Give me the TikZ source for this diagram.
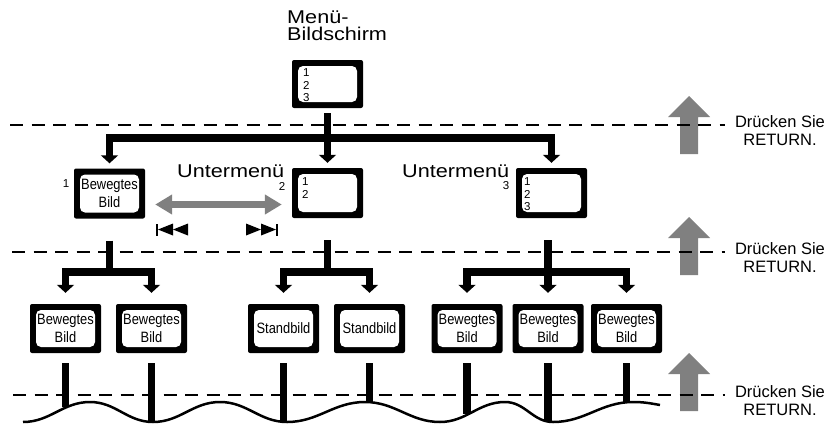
\documentclass[tikz,border=0pt]{standalone}
\usepackage{fontspec}
\usepackage{graphicx}
\setmainfont{Liberation Sans}
\usetikzlibrary{arrows.meta}
\definecolor{arrgray}{HTML}{808080}
\newcommand\wideT[1]{\scalebox{1.17}[1]{#1}}
\newcommand\narrowT[1]{\scalebox{0.86}[1]{#1}}
\begin{document}
\begin{tikzpicture}[x=1pt,y=-1pt,
  scr/.style={minimum width=71pt, minimum height=49pt, inner sep=0pt, fill=black, rounded corners=2pt,
    path picture={\fill[white, rounded corners=5pt] ([shift={(6pt,6pt)}]path picture bounding box.south west) rectangle ([shift={(-6pt,-6pt)}]path picture bounding box.north east);}},
  boxtxt/.style={font=\fontsize{15}{18}\selectfont, align=center, text=black},
  digits/.style={font=\fontsize{11.5}{12.5}\selectfont, align=left, inner sep=0pt, anchor=north west},
  smalltxt/.style={font=\fontsize{11.5}{12.5}\selectfont, inner sep=0pt},
  bigtxt/.style={font=\fontsize{18.5}{17}\selectfont, inner sep=0pt},
  rettxt/.style={font=\fontsize{16.5}{18}\selectfont, align=center, inner sep=0pt},
  thick line/.style={line width=7.5pt, draw=black},
  arr/.style={thick line, -{Triangle[width=17pt,length=8pt]}},
  darr/.style={thick line, {Triangle[width=17pt,length=8pt]}-{Triangle[width=17pt,length=8pt]}},
  grayarr/.style={line width=7pt, draw=arrgray, {Triangle[width=19pt,length=17pt]}-{Triangle[width=19pt,length=17pt]}},
  dashline/.style={line width=2.5pt, dash pattern=on 13pt off 8.5pt},
  wave/.style={line width=2.5pt},
  retarrow/.pic={\fill[arrgray] (-9,58) -- (-9,21) -- (-21,21) -- (0,0) -- (21,21) -- (9,21) -- (9,58) -- cycle;}
]
\useasboundingbox (0,0) rectangle (826,423);

% title
\node[bigtxt, align=left, anchor=north west] (title) at (287,11) {\wideT{Menü-}\\\wideT{Bildschirm}};

% top menu box
\node[scr, minimum height=48pt] (T) at (327.5,84) {};
\node[digits] (Td) at ([shift={(11pt,-9pt)}]T.north west) {1\\2\\3};

% level 1
\node[scr, minimum height=50pt, boxtxt] (A1) at (109.5,193.5) {\narrowT{Bewegtes}\\\narrowT{Bild}};
\node[scr, minimum height=50pt] (B1) at (327.5,193) {};
\node[digits] (B1d) at ([shift={(10pt,-10pt)}]B1.north west) {1\\2};
\node[scr, minimum height=50pt] (C1) at (551.5,193) {};
\node[digits] (C1d) at ([shift={(8pt,-10pt)}]C1.north west) {1\\2\\3};

\node[smalltxt] (n1) at (66,184) {1};
\node[bigtxt, anchor=base west] (u2) at (177,177) {\wideT{Untermenü}};
\node[smalltxt] (n2) at (282,186) {2};
\node[bigtxt, anchor=base west] (u3) at (402,177) {\wideT{Untermenü}};
\node[smalltxt] (n3) at (506,186) {3};

% level 2
\foreach \n/\x/\t in {D1/65.5/{\narrowT{Bewegtes}\\\narrowT{Bild}}, D2/151.5/{\narrowT{Bewegtes}\\\narrowT{Bild}}, D3/283.5/\narrowT{Standbild}, D4/369.5/\narrowT{Standbild}, D5/467/{\narrowT{Bewegtes}\\\narrowT{Bild}}, D6/548/{\narrowT{Bewegtes}\\\narrowT{Bild}}, D7/626.5/{\narrowT{Bewegtes}\\\narrowT{Bild}}}
  \node[scr, boxtxt] (\n) at (\x,328.5) {\t};

% return arrows
\pic at (689,96) {retarrow};
\pic at (689,217) {retarrow};
\pic at (689,353) {retarrow};

% connectors level 0 -> 1
\coordinate (bar1) at (0,138);
\draw[arr] ([yshift=-5pt]T.south) -- ([yshift=5pt]B1.north);
\draw[darr] ([yshift=5pt]A1.north) -- (A1.north |- bar1) -- (C1.north |- bar1) -- ([yshift=5pt]C1.north);

% gray double arrow
\coordinate (ga) at ([xshift=10pt,yshift=-11pt]A1.east);
\draw[grayarr, shorten >=10pt] (ga) -- (ga -| B1.west);

% skip symbols
\fill (155.5,223.5) rectangle (158,235.5);
\fill (158,229.5) -- (173,223.5) -- (173,235.5) -- cycle;
\fill (173,229.5) -- (188,223.5) -- (188,235.5) -- cycle;
\fill (246,223.5) -- (261,229.5) -- (246,235.5) -- cycle;
\fill (261,223.5) -- (276,229.5) -- (261,235.5) -- cycle;
\fill (275.5,223.5) rectangle (278,235.5);

% connectors level 1 -> 2
\coordinate (bar2) at (0,272);
\draw[thick line] ([yshift=-22pt]A1.south) -- (A1.south |- bar2);
\draw[darr] ([yshift=11pt]D1.north) -- (D1.north |- bar2) -- (D2.north |- bar2) -- ([yshift=11pt]D2.north);
\draw[thick line] ([yshift=-22pt]B1.south) -- (B1.south |- bar2);
\draw[darr] ([yshift=11pt]D3.north) -- (D3.north |- bar2) -- (D4.north |- bar2) -- ([yshift=11pt]D4.north);
\draw[arr] ([yshift=-22pt]D6.north |- C1.south) -- ([yshift=11pt]D6.north);
\draw[darr] ([yshift=11pt]D5.north) -- (D5.north |- bar2) -- (D7.north |- bar2) -- ([yshift=11pt]D7.north);

% bottom stems
\coordinate (e1) at (66,407);
\coordinate (e2) at (152,422);
\coordinate (e3) at (285,422);
\coordinate (e4) at (370,402.5);
\coordinate (e5) at (467,414);
\coordinate (e6) at (550,422);
\coordinate (e7) at (626,402.5);
\foreach \i in {1,...,7}
  \draw[thick line] ([yshift=-10pt]D\i.south) -- (D\i.south |- e\i);

% wave
\draw[wave] (23,422) to[out=0,in=180] (90,402) to[out=0,in=180] (153,422)
  to[out=0,in=180] (220,402) to[out=0,in=180] (287,422) to[out=0,in=180] (365,402)
  to[out=0,in=180] (440,422) to[out=0,in=180] (505,402) to[out=0,in=180] (553,422)
  to[out=0,in=180] (633,402) to[out=0,in=170] (660,405);

% dashed lines
\draw[dashline] (10,125) -- (725,125);
\draw[dashline] (12,252) -- (725,252);
\draw[dashline] (13,395) -- (725,395);

% return texts
\node[rettxt] (r1) at (780,131) {Drücken Sie\\RETURN.};
\node[rettxt] (r2) at (780,258) {Drücken Sie\\RETURN.};
\node[rettxt] (r3) at (780,401) {Drücken Sie\\RETURN.};
\end{tikzpicture}
\end{document}
